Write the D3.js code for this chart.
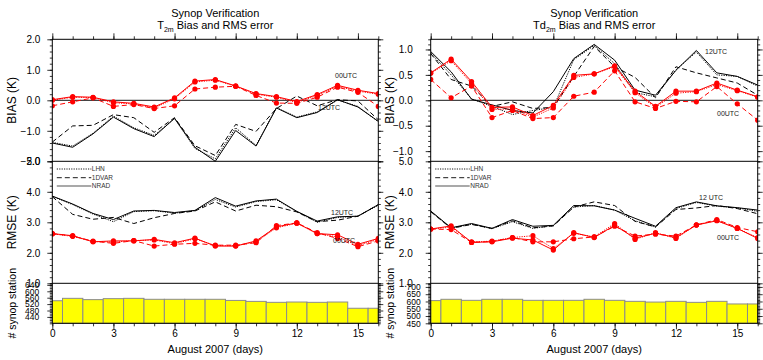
<!DOCTYPE html>
<html>
<head>
<meta charset="utf-8">
<script src="https://cdn.jsdelivr.net/npm/d3@7"></script>
<style>
  body { margin: 0; background: #fff; }
  text { font-family: "Liberation Sans", Arial, Helvetica, sans-serif; }
</style>
</head>
<body>
<svg id="chart" width="763" height="360"></svg>
<script>
// x categories (day of August 2007)
const days = [0, 1, 2, 3, 4, 5, 6, 7, 8, 9, 10, 11, 12, 13, 14, 15, 16];
const dayTicks = [0, 3, 6, 9, 12, 15];
const experiments = ['LHN', '1DVAR', 'NRAD'];

// T2m bias (K)
const t2mBias00Nrad = [0.02, 0.12, 0.10, -0.05, -0.10, -0.22, 0.08, 0.63, 0.68, 0.47, 0.22, 0.12, -0.04, 0.19, 0.49, 0.33, 0.22];
const t2mBias00Dvar = [-0.18, -0.05, 0.08, -0.20, -0.14, -0.27, -0.18, 0.37, 0.43, 0.46, 0.16, -0.09, -0.10, 0.10, 0.43, 0.26, -0.20];
const t2mBias00Lhn  = [0.00, 0.10, 0.09, -0.08, -0.12, -0.25, 0.05, 0.60, 0.66, 0.46, 0.20, 0.10, -0.07, 0.16, 0.46, 0.30, 0.20];
const t2mBias12Nrad = [-1.40, -1.54, -1.10, -0.55, -0.93, -1.19, -0.59, -1.54, -2.00, -0.99, -1.50, -0.25, -0.57, -0.40, 0.02, -0.22, -0.69];
const t2mBias12Dvar = [-1.37, -0.84, -0.82, -0.47, -0.57, -1.05, -0.57, -1.49, -1.81, -0.79, -1.02, -0.27, 0.14, -0.18, 0.02, -0.02, -0.64];
const t2mBias12Lhn  = [-1.38, -1.50, -1.08, -0.52, -0.90, -1.15, -0.60, -1.58, -1.92, -0.90, -1.48, -0.24, -0.55, -0.38, 0.01, -0.20, -0.70];

// T2m RMSE (K)
const t2mRmse00Nrad = [2.63, 2.56, 2.36, 2.39, 2.39, 2.44, 2.33, 2.48, 2.22, 2.22, 2.39, 2.85, 2.98, 2.63, 2.59, 2.28, 2.47];
const t2mRmse00Dvar = [2.63, 2.55, 2.38, 2.31, 2.40, 2.22, 2.28, 2.31, 2.25, 2.25, 2.33, 2.89, 2.98, 2.66, 2.47, 2.20, 2.39];
const t2mRmse00Lhn  = [2.62, 2.54, 2.37, 2.35, 2.40, 2.42, 2.30, 2.46, 2.24, 2.23, 2.36, 2.82, 2.97, 2.63, 2.52, 2.24, 2.44];
const t2mRmse12Nrad = [3.86, 3.60, 3.29, 3.09, 3.37, 3.39, 3.32, 3.39, 3.81, 3.53, 3.70, 3.76, 3.36, 3.04, 3.18, 3.20, 3.58];
const t2mRmse12Dvar = [3.84, 3.26, 3.10, 3.16, 2.96, 3.15, 3.29, 3.37, 3.67, 3.37, 3.56, 3.51, 3.34, 3.02, 3.07, 3.20, 3.58];
const t2mRmse12Lhn  = [3.85, 3.58, 3.27, 3.02, 3.35, 3.38, 3.30, 3.38, 3.75, 3.50, 3.68, 3.74, 3.35, 3.00, 3.16, 3.20, 3.56];

// Td2m bias (K)
const td2mBias00Nrad = [0.54, 0.81, 0.37, -0.14, -0.13, -0.30, -0.10, 0.49, 0.52, 0.68, 0.18, -0.12, 0.18, 0.18, 0.34, 0.20, 0.07];
const td2mBias00Dvar = [0.41, 0.05, 0.28, -0.34, -0.20, -0.36, -0.34, 0.08, 0.16, 0.58, -0.03, -0.16, -0.02, -0.03, 0.27, -0.07, -0.39];
const td2mBias00Lhn  = [0.53, 0.78, 0.33, -0.18, -0.17, -0.33, -0.15, 0.45, 0.52, 0.66, 0.15, -0.14, 0.14, 0.17, 0.31, 0.19, 0.06];
const td2mBias12Nrad = [0.96, 0.56, 0.02, -0.09, -0.20, -0.25, 0.17, 0.82, 1.10, 0.79, 0.20, 0.10, 0.59, 0.98, 0.54, 0.47, 0.30];
const td2mBias12Dvar = [0.92, 0.41, 0.28, -0.12, -0.03, -0.16, -0.14, 0.47, 1.06, 0.66, 0.45, 0.05, 0.66, 0.54, 0.44, 0.34, 0.10];
const td2mBias12Lhn  = [0.93, 0.50, 0.03, -0.12, -0.28, -0.20, -0.14, 0.80, 1.08, 0.72, 0.15, 0.07, 0.60, 0.95, 0.50, 0.47, 0.28];

// Td2m RMSE (K)
const td2mRmse00Nrad = [2.78, 2.88, 2.34, 2.36, 2.48, 2.42, 2.09, 2.66, 2.50, 2.90, 2.48, 2.64, 2.50, 2.91, 3.05, 2.80, 2.47];
const td2mRmse00Dvar = [2.78, 2.76, 2.34, 2.37, 2.50, 2.36, 2.36, 2.46, 2.52, 2.87, 2.55, 2.61, 2.55, 2.91, 3.09, 2.83, 2.69];
const td2mRmse00Lhn  = [2.78, 2.84, 2.36, 2.38, 2.50, 2.56, 2.14, 2.64, 2.52, 2.96, 2.44, 2.66, 2.47, 2.92, 3.06, 2.80, 2.50];
const td2mRmse12Nrad = [3.37, 2.82, 2.96, 2.80, 3.09, 2.87, 2.90, 3.55, 3.54, 3.40, 3.13, 2.87, 3.48, 3.67, 3.54, 3.48, 3.40];
const td2mRmse12Dvar = [3.35, 2.80, 2.93, 2.80, 3.05, 2.82, 2.88, 3.50, 3.67, 3.55, 3.03, 2.85, 3.42, 3.47, 3.55, 3.45, 3.28];
const td2mRmse12Lhn  = [3.36, 2.81, 2.94, 2.79, 3.02, 2.80, 2.89, 3.50, 3.55, 3.40, 3.05, 2.84, 3.45, 3.65, 3.53, 3.47, 3.36];

// number of synop stations
const t2mStations  = [541, 556, 548, 554, 556, 550, 550, 550, 550, 543, 537, 531, 533, 531, 533, 494, 494];
const td2mStations = [606, 615, 608, 615, 615, 608, 608, 608, 615, 608, 601, 596, 601, 594, 601, 583, 583];

// axis tick labels
const t2mBiasTicks = [-2, -1, 0, 1, 2];
const td2mBiasTicks = [-1, -0.5, 0, 0.5, 1];
const rmseTicks = [1, 2, 3, 4, 5];
const t2mStationTicks = [440, 480, 520, 560, 600, 640];
const td2mStationTicks = [450, 500, 550, 600, 650, 700];

const svg = d3.select('#chart');

// vertical layout shared by both plots
const yBiasRange = [161.3, 39.3];
const yRmseRange = [283.3, 161.3];
const yBarRange = [323.3, 283.3];

// line style per experiment
const dashFor = { LHN: '1.2,1.2', '1DVAR': '5,3', NRAD: null };

function drawPlot(cfg) {
    const g = svg.append('g');
    const x = d3.scaleLinear().domain([0, 16]).range([cfg.x0, cfg.x1]);
    const yBias = d3.scaleLinear().domain(cfg.biasDomain).range(yBiasRange);
    const yRmse = d3.scaleLinear().domain([1, 5]).range(yRmseRange);
    const yBar = d3.scaleLinear().domain(cfg.barDomain).range(yBarRange);

    // clip paths for each panel
    const defs = g.append('defs');
    const panels = [
        { id: cfg.id + 'b', y: yBiasRange },
        { id: cfg.id + 'r', y: yRmseRange },
        { id: cfg.id + 's', y: yBarRange },
    ];
    panels.forEach(function (p) {
        defs.append('clipPath').attr('id', p.id)
            .append('rect')
            .attr('x', cfg.x0).attr('y', p.y[1] - 3)
            .attr('width', cfg.x1 - cfg.x0).attr('height', p.y[0] - p.y[1] + 6);
    });

    // station bars
    g.append('g')
        .attr('clip-path', `url(#${cfg.id}s)`)
        .selectAll('rect')
        .data(days)
        .join('rect')
        .attr('x', d => Math.max(x(d - 0.5), cfg.x0))
        .attr('width', d => Math.min(x(d + 0.5), cfg.x1) - Math.max(x(d - 0.5), cfg.x0))
        .attr('y', (d, i) => yBar(cfg.stations[i]))
        .attr('height', (d, i) => yBarRange[0] - yBar(cfg.stations[i]))
        .attr('fill', '#ffff00')
        .attr('stroke', '#8c8c8c')
        .attr('stroke-width', 1);

    // zero line in bias panel
    g.append('line')
        .attr('x1', cfg.x0).attr('x2', cfg.x1)
        .attr('y1', yBias(0)).attr('y2', yBias(0))
        .attr('stroke', '#444').attr('stroke-width', 1.2);

    // lines
    function drawSeries(yScale, clipId, seriesList) {
        const lg = g.append('g').attr('clip-path', `url(#${clipId})`);
        seriesList.forEach(function (s) {
            const line = d3.line().x((d, i) => x(days[i])).y(d => yScale(d));
            lg.append('path')
                .datum(s.values)
                .attr('d', line)
                .attr('fill', 'none')
                .attr('stroke', s.color)
                .attr('stroke-width', 1)
                .attr('stroke-dasharray', dashFor[s.exp]);
            if (s.markers) {
                lg.selectAll(null)
                    .data(s.values)
                    .join('circle')
                    .attr('cx', (d, i) => x(days[i]))
                    .attr('cy', d => yScale(d))
                    .attr('r', 2.6)
                    .attr('fill', s.color);
            }
        });
    }
    drawSeries(yBias, cfg.id + 'b', cfg.bias12.map((v, i) => ({ values: v, exp: experiments[i], color: '#000' })));
    drawSeries(yBias, cfg.id + 'b', cfg.bias00.map((v, i) => ({ values: v, exp: experiments[i], color: '#ff0000', markers: true })));
    drawSeries(yRmse, cfg.id + 'r', cfg.rmse12.map((v, i) => ({ values: v, exp: experiments[i], color: '#000' })));
    drawSeries(yRmse, cfg.id + 'r', cfg.rmse00.map((v, i) => ({ values: v, exp: experiments[i], color: '#ff0000', markers: true })));

    // frame and panel separators
    g.append('rect')
        .attr('x', cfg.x0).attr('y', yBiasRange[1])
        .attr('width', cfg.x1 - cfg.x0).attr('height', yBarRange[0] - yBiasRange[1])
        .attr('fill', 'none').attr('stroke', '#000').attr('stroke-width', 1);
    [yBiasRange[0], yRmseRange[0]].forEach(function (yy) {
        g.append('line')
            .attr('x1', cfg.x0).attr('x2', cfg.x1)
            .attr('y1', yy).attr('y2', yy)
            .attr('stroke', '#000').attr('stroke-width', 1);
    });

    // axes helper
    function addAxis(axis, tx, ty, labels, fontSize) {
        const a = g.append('g')
            .attr('transform', `translate(${tx},${ty})`)
            .call(axis);
        a.select('.domain').remove();
        a.selectAll('line').attr('stroke', '#000').attr('stroke-width', 0.8);
        a.selectAll('text')
            .style('font-family', '"Liberation Sans", Arial, sans-serif')
            .style('font-size', fontSize + 'px')
            .attr('fill', '#000');
        if (!labels) a.selectAll('text').remove();
        return a;
    }

    const fmt1 = d3.format('.1f');
    const yDefs = [
        { scale: yBias, ticks: cfg.biasTicks, minor: cfg.biasMinor, fmt: fmt1 },
        { scale: yRmse, ticks: rmseTicks, minor: d3.range(1, 5.01, 0.2), fmt: fmt1 },
        { scale: yBar, ticks: cfg.stationTicks, minor: cfg.barMinor, fmt: d3.format('d'), small: true },
    ];
    yDefs.forEach(function (yd) {
        addAxis(d3.axisLeft(yd.scale).tickValues(yd.minor).tickSize(2.5), cfg.x0, 0, false, 9);
        addAxis(d3.axisLeft(yd.scale).tickValues(yd.ticks).tickSize(5)
            .tickPadding(yd.small ? cfg.barPad : cfg.labelPad).tickFormat(yd.fmt),
            cfg.x0, 0, true, yd.small ? 8.5 : 10);
        addAxis(d3.axisRight(yd.scale).tickValues(yd.minor).tickSize(2.5), cfg.x1, 0, false, 9);
        addAxis(d3.axisRight(yd.scale).tickValues(yd.ticks).tickSize(5), cfg.x1, 0, false, 9);
    });

    // x axes: bottom with labels, top mirrored
    addAxis(d3.axisBottom(x).tickValues(days).tickSize(3), 0, yBarRange[0], false, 10);
    addAxis(d3.axisBottom(x).tickValues(dayTicks).tickSize(6).tickPadding(1).tickFormat(d3.format('d')), 0, yBarRange[0], true, 10);
    addAxis(d3.axisTop(x).tickValues(days).tickSize(3), 0, yBiasRange[1], false, 10);
    addAxis(d3.axisTop(x).tickValues(dayTicks).tickSize(6), 0, yBiasRange[1], false, 10);

    const cx = (cfg.x0 + cfg.x1) / 2;

    // titles
    g.append('text')
        .attr('x', cx).attr('y', 17)
        .attr('text-anchor', 'middle')
        .style('font-size', '11px')
        .text('Synop Verification');
    const t2 = g.append('text')
        .attr('x', cx).attr('y', 29)
        .attr('text-anchor', 'middle')
        .style('font-size', '11px');
    t2.append('tspan').text(cfg.varName);
    t2.append('tspan').attr('dy', 3).style('font-size', '7px').text('2m');
    t2.append('tspan').attr('dy', -3).text(' Bias and RMS error');

    g.append('text')
        .attr('x', cx).attr('y', 353)
        .attr('text-anchor', 'middle')
        .style('font-size', '11px')
        .text('August 2007 (days)');

    // y titles
    const yTitles = [
        { text: 'BIAS (K)', y: (yBiasRange[0] + yBiasRange[1]) / 2, size: 12 },
        { text: 'RMSE (K)', y: (yRmseRange[0] + yRmseRange[1]) / 2, size: 12 },
        { text: '# synop station', y: (yBarRange[0] + yBarRange[1]) / 2, size: 10.5 },
    ];
    yTitles.forEach(function (t) {
        g.append('text')
            .attr('transform', `translate(${cfg.titleX},${t.y}) rotate(-90)`)
            .attr('text-anchor', 'middle')
            .style('font-size', t.size + 'px')
            .text(t.text);
    });

    // legend
    const legY = [169, 177.7, 186];
    experiments.forEach(function (e, i) {
        g.append('line')
            .attr('x1', cfg.x0 + 4.5).attr('x2', cfg.x0 + 39)
            .attr('y1', legY[i]).attr('y2', legY[i])
            .attr('stroke', e === 'NRAD' ? '#555' : '#000')
            .attr('stroke-width', e === 'NRAD' ? 1.2 : 0.9)
            .attr('stroke-dasharray', dashFor[e]);
        g.append('text')
            .attr('x', cfg.x0 + 39.5).attr('y', legY[i] + 2.3)
            .style('font-size', '6.5px')
            .attr('fill', '#333')
            .text(e);
    });

    // UTC annotations
    cfg.notes.forEach(function (n) {
        g.append('text')
            .attr('x', n.x).attr('y', n.y)
            .style('font-size', '7px')
            .attr('fill', '#222')
            .text(n.text);
    });
}

drawPlot({
    id: 't2m', x0: 52.3, x1: 378.3, varName: 'T',
    biasDomain: [-2, 2], biasTicks: t2mBiasTicks, biasMinor: d3.range(-2, 2.01, 0.2),
    barDomain: [400, 650], stationTicks: t2mStationTicks, barMinor: d3.range(400, 651, 10),
    labelPad: 7, barPad: 8, titleX: 16,
    bias00: [t2mBias00Lhn, t2mBias00Dvar, t2mBias00Nrad],
    bias12: [t2mBias12Lhn, t2mBias12Dvar, t2mBias12Nrad],
    rmse00: [t2mRmse00Lhn, t2mRmse00Dvar, t2mRmse00Nrad],
    rmse12: [t2mRmse12Lhn, t2mRmse12Dvar, t2mRmse12Nrad],
    stations: t2mStations,
    notes: [
        { text: '00UTC', x: 335, y: 77.5 },
        { text: '12UTC', x: 318, y: 109.5 },
        { text: '12UTC', x: 331, y: 214.5 },
        { text: '00UTC', x: 333, y: 243 },
    ],
});

drawPlot({
    id: 'td2m', x0: 430.7, x1: 757.7, varName: 'Td',
    biasDomain: [-1.2, 1.2], biasTicks: td2mBiasTicks, biasMinor: d3.range(-1.2, 1.201, 0.1),
    barDomain: [450, 725], stationTicks: td2mStationTicks, barMinor: d3.range(450, 726, 10),
    labelPad: 13, barPad: 5, titleX: 394,
    bias00: [td2mBias00Lhn, td2mBias00Dvar, td2mBias00Nrad],
    bias12: [td2mBias12Lhn, td2mBias12Dvar, td2mBias12Nrad],
    rmse00: [td2mRmse00Lhn, td2mRmse00Dvar, td2mRmse00Nrad],
    rmse12: [td2mRmse12Lhn, td2mRmse12Dvar, td2mRmse12Nrad],
    stations: td2mStations,
    notes: [
        { text: '12UTC', x: 705, y: 54 },
        { text: '00UTC', x: 717, y: 116 },
        { text: '12 UTC', x: 699, y: 200 },
        { text: '00UTC', x: 717, y: 240 },
    ],
});
</script>
</body>
</html>
